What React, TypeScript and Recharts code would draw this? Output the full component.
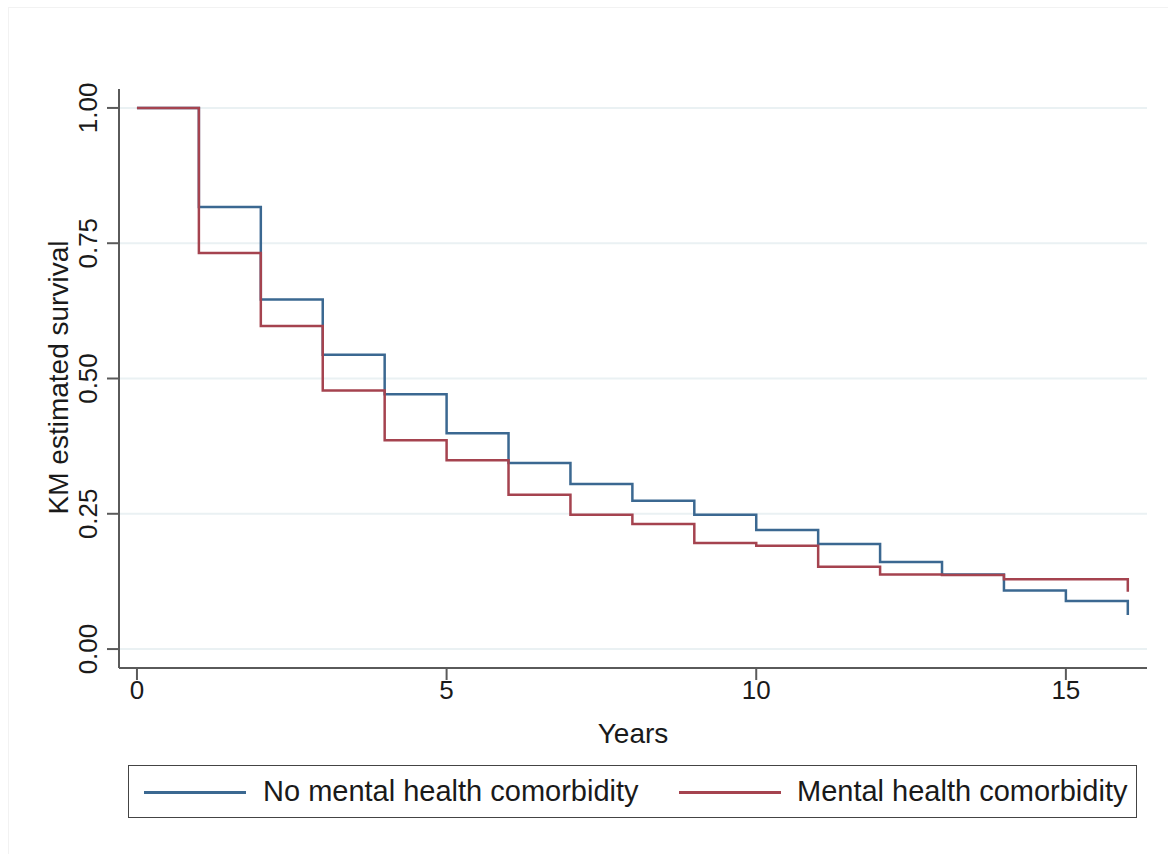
import React from 'react';
import { LineChart, Line, XAxis, YAxis, CartesianGrid, Label } from 'recharts';

// Time points (years); the last 16 repeats to show the final drop
const years = [0, 1, 2, 3, 4, 5, 6, 7, 8, 9, 10, 11, 12, 13, 14, 15, 16, 16];
const noMentalHealth = [1.0, 0.817, 0.646, 0.544, 0.471, 0.399, 0.344, 0.305, 0.274, 0.248, 0.22, 0.194, 0.161, 0.138, 0.108, 0.089, 0.089, 0.063];
const mentalHealth = [1.0, 0.732, 0.597, 0.478, 0.386, 0.349, 0.285, 0.248, 0.231, 0.196, 0.191, 0.152, 0.138, 0.137, 0.129, 0.129, 0.129, 0.106];

const xTicks = [0, 5, 10, 15];
const yTicks = [0, 0.25, 0.5, 0.75, 1.0];
const yTickLabels = ['0.00', '0.25', '0.50', '0.75', '1.00'];

const seriesNames = ['No mental health comorbidity', 'Mental health comorbidity'];
const BLUE = '#3b6891';
const RED = '#a5434f';
const FONT = '"Liberation Sans", Arial, sans-serif';
const AXIS = '#5a5a5a';
const TEXT = '#1a1a1a';

const data = years.map((t, i) => ({ t, a: noMentalHealth[i], b: mentalHealth[i] }));

const YTick = (props: any) => {
  const { x, y, payload } = props;
  const idx = yTicks.indexOf(payload.value);
  const label = idx >= 0 ? yTickLabels[idx] : String(payload.value);
  return (
    <text x={x} y={y} transform={`rotate(-90 ${x} ${y})`} textAnchor="middle" fontSize={26} fontFamily={FONT} fill={TEXT}>
      {label}
    </text>
  );
};

const XTick = (props: any) => {
  const { x, y, payload } = props;
  return (
    <text x={x} y={y + 19} textAnchor="middle" fontSize={26} fontFamily={FONT} fill={TEXT}>
      {payload.value}
    </text>
  );
};

const XTitle = (props: any) => {
  const vb = props.viewBox || { x: 119, width: 1028, y: 668 };
  const cx = vb.x + vb.width / 2;
  return (
    <text x={cx} y={743} textAnchor="middle" fontSize={28} fontFamily={FONT} fill={TEXT}>
      Years
    </text>
  );
};

const YTitle = (props: any) => {
  const vb = props.viewBox || { y: 89, height: 579 };
  const cy = vb.y + vb.height / 2 - 1;
  const x = 68;
  return (
    <text x={x} y={cy} transform={`rotate(-90 ${x} ${cy})`} textAnchor="middle" fontSize={28} fontFamily={FONT} fill={TEXT}>
      KM estimated survival
    </text>
  );
};

export default function App() {
  return (
    <div style={{ position: 'absolute', left: 0, top: 0, width: 1168, height: 854, background: '#fff', overflow: 'hidden' }}>
      <div style={{ position: 'absolute', left: 8, top: 7, width: 1170, height: 860, borderLeft: '1px solid #f2f2f2', borderTop: '1px solid #f2f2f2' }} />
      <div style={{ position: 'absolute', left: 0, top: 0 }}>
        <LineChart width={1168} height={854} data={data} margin={{ top: 89, right: 21, bottom: 185, left: 118 }}>
          <CartesianGrid horizontal={true} vertical={false} stroke="#eaf1f3" strokeWidth={2} syncWithTicks />
          <XAxis
            dataKey="t"
            type="number"
            domain={[-0.29, 16.31]}
            ticks={xTicks}
            height={1}
            tickSize={12}
            tickMargin={0}
            axisLine={{ stroke: AXIS, strokeWidth: 2 }}
            tickLine={{ stroke: AXIS, strokeWidth: 2 }}
            tick={<XTick />}
            allowDataOverflow
          >
            <Label content={<XTitle />} />
          </XAxis>
          <YAxis
            type="number"
            domain={[-0.035, 1.035]}
            ticks={yTicks}
            width={1}
            tickSize={12}
            tickMargin={10}
            axisLine={{ stroke: AXIS, strokeWidth: 2 }}
            tickLine={{ stroke: AXIS, strokeWidth: 2 }}
            tick={<YTick />}
            allowDataOverflow
          >
            <Label content={<YTitle />} />
          </YAxis>
          <Line type="stepAfter" dataKey="a" name={seriesNames[0]} stroke={BLUE} strokeWidth={2.5} dot={false} activeDot={false} isAnimationActive={false} />
          <Line type="stepAfter" dataKey="b" name={seriesNames[1]} stroke={RED} strokeWidth={2.5} dot={false} activeDot={false} isAnimationActive={false} />
        </LineChart>
      </div>
      <div
        style={{
          position: 'absolute',
          left: 128,
          top: 765,
          width: 1007,
          height: 51,
          border: '1.5px solid #444',
          fontFamily: FONT,
          fontSize: 29,
          color: TEXT,
        }}
      >
        <div style={{ position: 'absolute', left: 15, top: 25, width: 102, height: 2.5, background: BLUE }} />
        <div style={{ position: 'absolute', left: 134, top: 9, lineHeight: '32px', whiteSpace: 'nowrap' }}>{seriesNames[0]}</div>
        <div style={{ position: 'absolute', left: 550, top: 25, width: 102, height: 2.5, background: RED }} />
        <div style={{ position: 'absolute', left: 668, top: 9, lineHeight: '32px', whiteSpace: 'nowrap' }}>{seriesNames[1]}</div>
      </div>
    </div>
  );
}
